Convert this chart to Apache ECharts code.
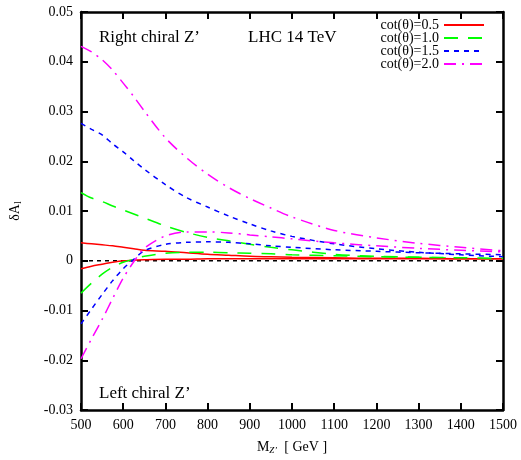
<!DOCTYPE html>
<html><head><meta charset="utf-8">
<script src="https://cdn.jsdelivr.net/npm/echarts@6/dist/echarts.min.js"></script>
<style>html,body{margin:0;padding:0;background:#fff}#c{width:521px;height:460px}</style>
</head><body><div id="c"></div>
<script>
const masses = [500, 525, 550, 575, 600, 625, 650, 700, 750, 800, 850, 900, 950, 1000, 1100, 1200, 1300, 1400, 1500];
const legendNames = ['cot(θ)=0.5', 'cot(θ)=1.0', 'cot(θ)=1.5', 'cot(θ)=2.0'];
// Right chiral Z'
const right05 = [0.0036, 0.0034, 0.0032, 0.0030, 0.0027, 0.0024, 0.0021, 0.0019, 0.0016, 0.0013, 0.0011, 0.0009, 0.0008, 0.0007, 0.0006, 0.0005, 0.0005, 0.0004, 0.0004];
const right10 = [0.0137, 0.0126, 0.0119, 0.0110, 0.0102, 0.0094, 0.0086, 0.0070, 0.0057, 0.0047, 0.0040, 0.0033, 0.0027, 0.0022, 0.0013, 0.0009, 0.0007, 0.0005, 0.0004];
const right15 = [0.0276, 0.0264, 0.0253, 0.0235, 0.0219, 0.0201, 0.0184, 0.0153, 0.0127, 0.0108, 0.0090, 0.0074, 0.0060, 0.0049, 0.0034, 0.0024, 0.0017, 0.0012, 0.0008];
const right20 = [0.0431, 0.0420, 0.0404, 0.0383, 0.0357, 0.0330, 0.0301, 0.0247, 0.0207, 0.0174, 0.0147, 0.0125, 0.0106, 0.0088, 0.0061, 0.0046, 0.0035, 0.0027, 0.0020];
// Left chiral Z'
const left05 = [-0.0016, -0.0011, -0.0007, -0.0003, 0.0000, 0.0001, 0.0002, 0.0003, 0.0003, 0.0004, 0.0004, 0.0004, 0.0004, 0.0004, 0.0004, 0.0004, 0.0004, 0.0004, 0.0004];
const left10 = [-0.0065, -0.0045, -0.0027, -0.0013, -0.0003, 0.0003, 0.0009, 0.0015, 0.0017, 0.0017, 0.0016, 0.0015, 0.0014, 0.0012, 0.0010, 0.0008, 0.0007, 0.0006, 0.0005];
const left15 = [-0.0127, -0.0097, -0.0068, -0.0040, -0.0016, 0.0003, 0.0020, 0.0033, 0.0037, 0.0038, 0.0037, 0.0034, 0.0030, 0.0027, 0.0022, 0.0019, 0.0016, 0.0014, 0.0012];
const left20 = [-0.0197, -0.0157, -0.0118, -0.0076, -0.0035, -0.0002, 0.0025, 0.0050, 0.0058, 0.0058, 0.0056, 0.0052, 0.0048, 0.0044, 0.0036, 0.0030, 0.0025, 0.0021, 0.0018];
const xTicks = [500, 600, 700, 800, 900, 1000, 1100, 1200, 1300, 1400, 1500];

const FONT = 'Liberation Serif';
const colors = ['#ff0000', '#00ff00', '#0000ff', '#ff00ff'];
const dashes = ['solid', [14, 10], [5, 5], [12, 6, 2, 6]];
const pairs = arr => masses.map((m, i) => [m, arr[i]]);

const rightSets = [right05, right10, right15, right20];
const leftSets = [left05, left10, left15, left20];
const series = [];
[rightSets, leftSets].forEach(sets => {
  sets.forEach((arr, k) => {
    series.push({
      name: legendNames[k], type: 'line', data: pairs(arr), symbol: 'none',
      smooth: 0.3, clip: true, z: 3,
      lineStyle: { color: colors[k], width: 1.5, type: dashes[k] },
      itemStyle: { color: colors[k] }
    });
  });
});
series.push({
  name: 'zero', type: 'line', data: [[xTicks[0], 0], [xTicks[xTicks.length - 1], 0]], symbol: 'none', z: 2,
  lineStyle: { color: '#000', width: 1.5, type: [4, 4] }, silent: true
});

const axisBase = {
  type: 'value',
  axisLine: { show: true, onZero: false, lineStyle: { color: '#000', width: 2.5 } },
  axisTick: { show: true, inside: true, length: 7, lineStyle: { color: '#000', width: 2 } },
  splitLine: { show: false }
};

const chart = echarts.init(document.getElementById('c'), null, { renderer: 'canvas' });
chart.setOption({
  backgroundColor: '#fff',
  animation: false,
  grid: { left: 79, right: 18, top: 12, bottom: 42 },
  legend: {
    data: legendNames, right: 31, top: 13, orient: 'vertical', align: 'right',
    itemWidth: 40, itemHeight: 10, itemGap: -1,
    itemStyle: { opacity: 0 },
    textStyle: { fontFamily: FONT, fontSize: 14, color: '#000' }
  },
  xAxis: [
    Object.assign({}, axisBase, {
      min: 500, max: 1500, interval: 100, position: 'bottom',
      axisLabel: { fontFamily: FONT, fontSize: 14, color: '#000', margin: 8, formatter: v => String(v) },
      name: '{a|M}{b|Z’}{a|  [ GeV ]}', nameLocation: 'middle', nameGap: 30,
      nameTextStyle: { rich: { a: { fontFamily: FONT, fontSize: 14, color: '#000' }, b: { fontFamily: FONT, fontSize: 9, color: '#000', fontStyle: 'italic', verticalAlign: 'bottom', padding: [6, 0, 0, 0] } } }
    }),
    Object.assign({}, axisBase, {
      min: 500, max: 1500, interval: 100, position: 'top', axisLabel: { show: false }
    })
  ],
  yAxis: [
    Object.assign({}, axisBase, {
      min: -0.03, max: 0.05, interval: 0.01, position: 'left',
      axisLabel: {
        fontFamily: FONT, fontSize: 14, color: '#000', margin: 8,
        formatter: v => { const r = Math.round(v * 100) / 100; return r === 0 ? '0' : r.toFixed(2); }
      },
      name: '{a|δA}{b|l}', nameLocation: 'middle', nameGap: 58, nameRotate: 90,
      nameTextStyle: { rich: { a: { fontFamily: FONT, fontSize: 14, color: '#000' }, b: { fontFamily: FONT, fontSize: 10, color: '#000', padding: [6, 0, 0, 0] } } }
    }),
    Object.assign({}, axisBase, {
      min: -0.03, max: 0.05, interval: 0.01, position: 'right', axisLabel: { show: false }
    })
  ],
  graphic: [
    { type: 'text', left: 99, top: 29, style: { text: 'Right chiral Z’', fontFamily: FONT, fontSize: 17, fill: '#000' } },
    { type: 'text', left: 248, top: 29, style: { text: 'LHC 14 TeV', fontFamily: FONT, fontSize: 17, fill: '#000' } },
    { type: 'text', left: 99, top: 385, style: { text: 'Left chiral Z’', fontFamily: FONT, fontSize: 17, fill: '#000' } }
  ],
  series: series
});
</script></body></html>
